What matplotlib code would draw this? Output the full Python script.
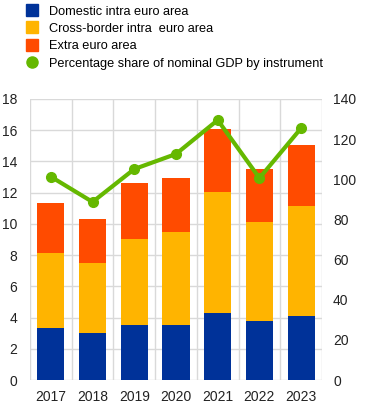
import matplotlib.pyplot as plt
from matplotlib.lines import Line2D

plt.rcParams['font.family'] = ['Liberation Sans', 'DejaVu Sans']

# Years
years = ['2017', '2018', '2019', '2020', '2021', '2022', '2023']

# Stacked components (left axis)
domestic = [3.35, 3.0, 3.52, 3.52, 4.29, 3.8, 4.1]
cross_border = [4.79, 4.5, 5.52, 5.97, 7.76, 6.33, 7.05]
extra = [3.21, 2.8, 3.56, 3.46, 4.05, 3.37, 3.9]

# Share of nominal GDP (right axis)
gdp_share = [101.3, 88.7, 105.1, 112.6, 129.5, 100.6, 125.5]

c_dom = '#003299'
c_cross = '#FFB400'
c_extra = '#FF4B00'
c_line = '#65B800'
grid_c = '#D9D9D9'

fig = plt.figure(figsize=(3.73, 4.07), dpi=100)
ax = fig.add_axes([30/373, 27/407, 292/373, 281/407])

x = list(range(len(years)))
bottom2 = [a + b for a, b in zip(domestic, cross_border)]
ax.bar(x, domestic, width=0.65, color=c_dom, zorder=2)
ax.bar(x, cross_border, width=0.65, bottom=domestic, color=c_cross, zorder=2)
ax.bar(x, extra, width=0.65, bottom=bottom2, color=c_extra, zorder=2)

ax.set_xlim(-0.5, len(years) - 0.5)
ax.set_ylim(0, 18)
ax.set_yticks(range(0, 19, 2))
ax.set_xticks(x)
ax.set_xticklabels(years)
ax.set_xticks([i + 0.5 for i in range(-1, len(years))], minor=True)
ax.grid(True, axis='y', color=grid_c, linewidth=1, zorder=0)
ax.grid(True, axis='x', which='minor', color=grid_c, linewidth=1, zorder=0)
ax.tick_params(axis='both', which='both', length=0, labelsize=10, colors='#222222')
ax.tick_params(axis='y', pad=9)
ax.tick_params(axis='x', pad=7)
for s in ax.spines.values():
    s.set_visible(False)
ax.set_axisbelow(True)

ax2 = ax.twinx()
ax2.plot(x, gdp_share, color=c_line, linewidth=3, marker='o', markersize=7, zorder=3)
ax2.set_ylim(0, 140)
ax2.set_yticks(range(0, 141, 20))
ax2.tick_params(axis='y', length=0, labelsize=10, colors='#222222', pad=8)
for s in ax2.spines.values():
    s.set_visible(False)

handles = [
    Line2D([], [], marker='s', linestyle='none', color=c_dom, markersize=8),
    Line2D([], [], marker='s', linestyle='none', color=c_cross, markersize=8),
    Line2D([], [], marker='s', linestyle='none', color=c_extra, markersize=8),
    Line2D([], [], marker='o', linestyle='none', color=c_line, markersize=8),
]
labels = ['Domestic intra euro area', 'Cross-border intra  euro area',
          'Extra euro area', 'Percentage share of nominal GDP by instrument']
fig.legend(handles, labels, loc='upper left', bbox_to_anchor=(22/373, 1 - 3/407),
           frameon=False, fontsize=9.2, handlelength=1.2, handletextpad=0.7,
           labelspacing=0.42, borderaxespad=0.0, borderpad=0.2)

fig.savefig('out.png', dpi=100)
